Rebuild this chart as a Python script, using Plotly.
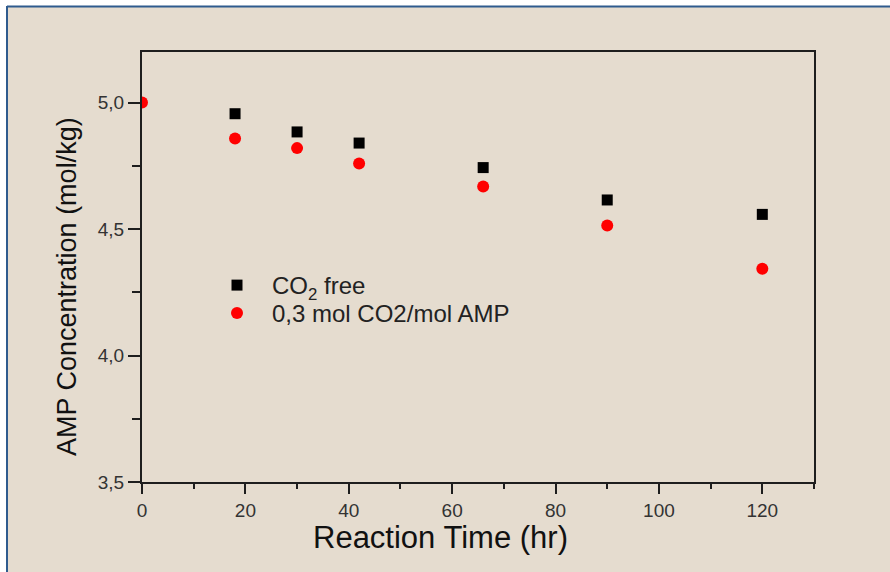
import plotly.graph_objects as go

# ---- data ----
time_co2_free = [18, 30, 42, 66, 90, 120]
conc_co2_free = [4.956, 4.884, 4.840, 4.743, 4.615, 4.558]

time_co2_loaded = [0, 18, 30, 42, 66, 90, 120]
conc_co2_loaded = [5.0, 4.858, 4.820, 4.759, 4.668, 4.514, 4.343]

x_ticks = [0, 20, 40, 60, 80, 100, 120]
y_ticks = [3.5, 4.0, 4.5, 5.0]

series_names = ["CO<sub>2</sub> free", "0,3 mol CO2/mol AMP"]
x_title = "Reaction Time (hr)"
y_title = "AMP Concentration (mol/kg)"

# ---- layout geometry (pixels) ----
W, H = 890, 572
ML, MR, MT, MB = 142, 76, 52, 90
PW, PH = W - ML - MR, H - MT - MB


def px(xp):
    return (xp - ML) / PW


def py(yp):
    return (H - MB - yp) / PH


BG = "#e5dccf"
FONT = "Arial, Liberation Sans, sans-serif"

fig = go.Figure()
fig.add_trace(go.Scatter(
    x=time_co2_free, y=conc_co2_free, mode="markers", name=series_names[0],
    marker=dict(symbol="square", size=11, color="#000000"), legend="legend",
))
fig.add_trace(go.Scatter(
    x=time_co2_loaded, y=conc_co2_loaded, mode="markers", name=series_names[1],
    marker=dict(symbol="circle", size=12, color="#ff0000"), legend="legend2",
))

axis_common = dict(
    showgrid=False, zeroline=False, showline=True, mirror=True,
    linecolor="#1e1e1e", linewidth=2, ticks="outside", tickcolor="#1e1e1e",
    tickwidth=2, tickfont=dict(family=FONT, size=19, color="#333333"),
)

fig.update_xaxes(
    range=[0, 130], tickvals=x_ticks, ticklen=10,
    minor=dict(dtick=10, tick0=0, ticks="outside", ticklen=5, tickwidth=2, tickcolor="#1e1e1e"),
    **axis_common,
)
fig.update_yaxes(
    range=[3.5, 5.2], tickvals=y_ticks, tickformat=".1f", ticklen=12,
    minor=dict(dtick=0.25, tick0=3.5, ticks="outside", ticklen=8, tickwidth=2, tickcolor="#1e1e1e"),
    **axis_common,
)

legend_common = dict(
    xanchor="left", yanchor="top", bgcolor="rgba(0,0,0,0)",
    font=dict(family=FONT, size=24, color="#222222"), itemwidth=60,
)

fig.update_layout(
    width=W, height=H,
    margin=dict(l=ML, r=MR, t=MT, b=MB, pad=0),
    paper_bgcolor="white", plot_bgcolor=BG,
    separators=",.",
    font=dict(family=FONT, color="#222222"),
    showlegend=True,
    legend=dict(x=px(202), y=py(263), **legend_common),
    legend2=dict(x=px(202), y=py(291), **legend_common),
    shapes=[
        dict(type="rect", xref="paper", yref="paper", layer="below",
             x0=px(7), x1=px(W + 5), y0=py(H + 5), y1=py(6),
             fillcolor=BG, line=dict(width=0)),
        dict(type="line", xref="paper", yref="paper", layer="below",
             x0=px(7), x1=px(W + 5), y0=py(6.5), y1=py(6.5),
             line=dict(color="#2f5b8e", width=2)),
        dict(type="line", xref="paper", yref="paper", layer="below",
             x0=px(7), x1=px(7), y0=py(6), y1=py(H + 5),
             line=dict(color="#2f5b8e", width=2)),
    ],
    annotations=[
        dict(text=x_title, xref="paper", yref="paper", x=px(440), y=py(537),
             xanchor="center", yanchor="middle", showarrow=False,
             font=dict(family=FONT, size=31, color="#111111")),
        dict(text=y_title, xref="paper", yref="paper", x=px(67), y=py(287),
             xanchor="center", yanchor="middle", showarrow=False, textangle=-90,
             font=dict(family=FONT, size=27, color="#111111")),
    ],
)

fig.write_html("out.html")
